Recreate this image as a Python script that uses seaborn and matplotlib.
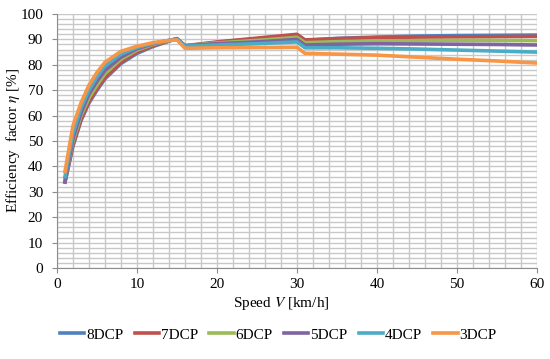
import numpy as np
import pandas as pd
import matplotlib
matplotlib.use("Agg")
import matplotlib.pyplot as plt
import seaborn as sns
from matplotlib.ticker import MultipleLocator

# speed points [km/h]
speed = [1, 2, 3, 4, 5, 6, 8, 10, 12, 14, 15, 16, 20, 25, 30, 31, 35, 40, 45, 50, 55, 60]

# efficiency factor [%] per configuration
eta_8dcp = [33.8, 48.0, 58.0, 65.0, 70.0, 74.5, 80.5, 84.5, 87.2, 89.3, 90.3, 87.3, 88.8, 90.2, 91.7, 89.6, 90.4, 90.9, 91.3, 91.5, 91.6, 91.7]
eta_7dcp = [34.0, 48.5, 58.5, 65.5, 70.5, 75.0, 81.0, 85.0, 87.5, 89.4, 90.3, 87.5, 89.0, 90.5, 92.0, 89.8, 90.3, 90.7, 90.9, 91.0, 91.1, 91.2]
eta_6dcp = [34.5, 50.0, 60.0, 67.0, 72.0, 76.5, 82.2, 85.8, 88.0, 89.5, 90.2, 87.5, 88.6, 89.6, 90.8, 88.7, 89.1, 89.4, 89.5, 89.6, 89.6, 89.5]
eta_5dcp = [34.0, 51.0, 61.0, 68.5, 73.5, 77.8, 83.0, 86.3, 88.3, 89.6, 90.2, 87.5, 88.3, 89.0, 90.0, 87.8, 88.1, 88.3, 88.2, 88.1, 88.0, 87.8]
eta_4dcp = [36.0, 53.0, 63.0, 70.0, 75.3, 79.5, 84.2, 86.8, 88.5, 89.6, 90.0, 87.3, 87.8, 88.3, 89.0, 86.7, 86.7, 86.5, 86.2, 85.8, 85.4, 85.0]
eta_3dcp = [38.0, 56.0, 65.0, 72.0, 77.0, 81.0, 85.3, 87.3, 88.7, 89.6, 89.8, 86.5, 86.7, 86.8, 86.9, 84.5, 84.2, 83.8, 83.0, 82.2, 81.5, 80.7]

labels = ["8DCP", "7DCP", "6DCP", "5DCP", "4DCP", "3DCP"]
colors = ["#4F81BD", "#C0504D", "#9BBB59", "#8064A2", "#4BACC6", "#F79646"]

series = [eta_8dcp, eta_7dcp, eta_6dcp, eta_5dcp, eta_4dcp, eta_3dcp]
df = pd.concat(
    [pd.DataFrame({"speed": speed, "eta": s, "config": lab}) for s, lab in zip(series, labels)],
    ignore_index=True,
)

plt.rcParams["font.family"] = ["Liberation Serif", "DejaVu Serif"]
plt.rcParams["mathtext.fontset"] = "stix"

fig = plt.figure(figsize=(5.5, 3.59), dpi=100)
ax = fig.add_axes([0.1036, 0.2535, 0.8727, 0.7075])

sns.lineplot(data=df, x="speed", y="eta", hue="config", hue_order=labels,
             palette=colors, linewidth=2.6, ax=ax, sort=True, estimator=None)

ax.set_xlim(0, 60)
ax.set_ylim(0, 100)
ax.xaxis.set_major_locator(MultipleLocator(10))
ax.xaxis.set_minor_locator(MultipleLocator(2))
ax.yaxis.set_major_locator(MultipleLocator(10))
ax.yaxis.set_minor_locator(MultipleLocator(2))
ax.grid(which="both", color="#C8C8C8", linewidth=1.0)
ax.set_axisbelow(True)

for side in ["top", "right"]:
    ax.spines[side].set_visible(False)
for side in ["left", "bottom"]:
    ax.spines[side].set_color("#8C8C8C")
ax.tick_params(which="major", length=3.5, color="#8C8C8C", labelsize=11)
ax.tick_params(axis="y", which="major", pad=6.5)
ax.tick_params(axis="x", which="major", pad=4)
ax.tick_params(which="minor", length=0)

ax.set_xlabel("Speed $V$ [km/h]", fontsize=11)
ax.set_ylabel("Efficiency  factor $\\eta$ [%]", fontsize=11)
ax.xaxis.set_label_coords(0.468, -0.105)
ax.yaxis.set_label_coords(-0.073, 0.504)

handles, _ = ax.get_legend_handles_labels()
ax.get_legend().remove()
fig.legend(handles, labels, loc="center", bbox_to_anchor=(0.506, 0.067), ncol=6,
           frameon=False, fontsize=11, handlelength=1.6, handletextpad=0.1,
           columnspacing=0.75)

fig.savefig("out.png", dpi=100)
